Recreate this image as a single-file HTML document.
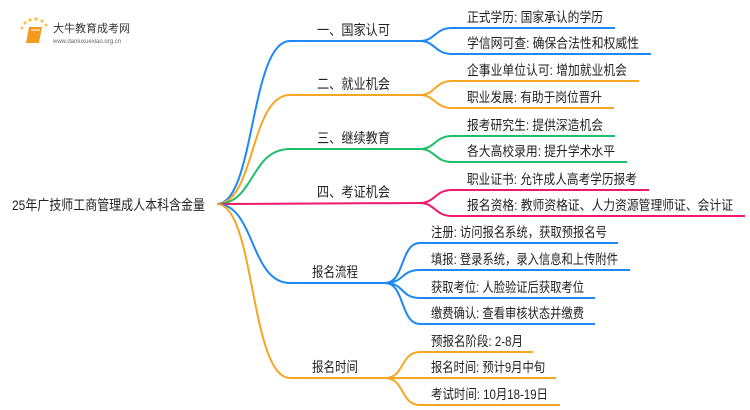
<!DOCTYPE html>
<html><head><meta charset="utf-8"><style>
html,body{margin:0;padding:0;background:#fff;width:750px;height:410px;overflow:hidden}
svg text{font-family:"Liberation Sans","Noto Sans CJK SC",sans-serif;fill:#222}
</style></head><body>
<svg width="750" height="410" viewBox="0 0 750 410" xmlns="http://www.w3.org/2000/svg">
<g fill="none" stroke-width="2">
<path d="M217,204 C255,204 250,41 290,41 L420,41" stroke="#1e88f5"/>
<path d="M217,204 C255,204 250,95 290,95 L420,95" stroke="#f5a623"/>
<path d="M217,204 C255,204 250,149 290,149 L420,149" stroke="#1fbf6a"/>
<path d="M217,204 L420,203" stroke="#f0196e"/>
<path d="M217,204 C255,204 250,283 290,283 L385,283" stroke="#1e88f5"/>
<path d="M217,204 C255,204 250,378 290,378 L385,378" stroke="#f5a623"/>
<g stroke="#1e88f5">
<path d="M420,41 C435,41 435,28 452,28 L615,28"/>
<path d="M420,41 C435,41 435,54 452,54 L651,54"/>
</g>
<g stroke="#f5a623">
<path d="M420,95 C435,95 435,81 452,81 L639,81"/>
<path d="M420,95 C435,95 435,108 452,108 L614,108"/>
</g>
<g stroke="#1fbf6a">
<path d="M420,149 C435,149 435,136 452,136 L615,136"/>
<path d="M420,149 C435,149 435,162 452,162 L627,162"/>
</g>
<g stroke="#f0196e">
<path d="M420,203 C435,203 435,190 452,190 L649,190"/>
<path d="M420,203 C435,203 435,216 452,216 L745,216"/>
</g>
<g stroke="#1e88f5">
<path d="M385,283 C405,283 400,243 420,243 L618,243"/>
<path d="M385,283 C405,283 400,270 420,270 L630,270"/>
<path d="M385,283 C405,283 400,298 420,298 L595,298"/>
<path d="M385,283 C405,283 400,324 420,324 L595,324"/>
</g>
<g stroke="#f5a623">
<path d="M385,378 C405,378 400,352 420,352 L533,352"/>
<path d="M385,378 L556,378"/>
<path d="M385,378 C405,378 400,405 420,405 L560,405"/>
</g>
</g>
<g>
<circle cx="22" cy="28" r="1.5" fill="#f8c34a"/><circle cx="25" cy="23" r="1.6" fill="#f8c34a"/>
<circle cx="30" cy="20" r="1.7" fill="#f8c34a"/><circle cx="36" cy="19" r="1.7" fill="#f8c34a"/>
<circle cx="42" cy="21" r="1.6" fill="#f8c34a"/><circle cx="46" cy="25" r="1.5" fill="#f8c34a"/>
<path d="M29,27 L42,27 L39,43 L26,43 Z" fill="#f39a1e"/>
<path d="M31,30 L40,30" stroke="#fff" stroke-width="1"/>
<text x="53" y="32" font-size="11" style="fill:#333">大牛教育成考网</text>
<text x="53" y="43" font-size="6" style="fill:#666">www.daniuxuexiao.org.cn</text>
</g>
<g font-size="14" lengthAdjust="spacingAndGlyphs">
<text x="12" y="210" textLength="193" lengthAdjust="spacingAndGlyphs">25年广技师工商管理成人本科含金量</text>
<text x="317" y="35" textLength="73" lengthAdjust="spacingAndGlyphs">一、国家认可</text>
<text x="317" y="89" textLength="73" lengthAdjust="spacingAndGlyphs">二、就业机会</text>
<text x="317" y="143" textLength="73" lengthAdjust="spacingAndGlyphs">三、继续教育</text>
<text x="317" y="197" textLength="73" lengthAdjust="spacingAndGlyphs">四、考证机会</text>
<text x="312" y="277" textLength="46" lengthAdjust="spacingAndGlyphs">报名流程</text>
<text x="312" y="372" textLength="46" lengthAdjust="spacingAndGlyphs">报名时间</text>
</g>
<g font-size="13.5">
<text x="467" y="22" textLength="136" lengthAdjust="spacingAndGlyphs">正式学历: 国家承认的学历</text>
<text x="467" y="48" textLength="172" lengthAdjust="spacingAndGlyphs">学信网可查: 确保合法性和权威性</text>
<text x="467" y="75" textLength="160" lengthAdjust="spacingAndGlyphs">企事业单位认可: 增加就业机会</text>
<text x="467" y="102" textLength="135" lengthAdjust="spacingAndGlyphs">职业发展: 有助于岗位晋升</text>
<text x="467" y="130" textLength="136" lengthAdjust="spacingAndGlyphs">报考研究生: 提供深造机会</text>
<text x="467" y="156" textLength="148" lengthAdjust="spacingAndGlyphs">各大高校录用: 提升学术水平</text>
<text x="467" y="184" textLength="170" lengthAdjust="spacingAndGlyphs">职业证书: 允许成人高考学历报考</text>
<text x="467" y="210" textLength="266" lengthAdjust="spacingAndGlyphs">报名资格: 教师资格证、人力资源管理师证、会计证</text>
<text x="431" y="237" textLength="176" lengthAdjust="spacingAndGlyphs">注册: 访问报名系统，获取预报名号</text>
<text x="431" y="264" textLength="187" lengthAdjust="spacingAndGlyphs">填报: 登录系统，录入信息和上传附件</text>
<text x="431" y="292" textLength="153" lengthAdjust="spacingAndGlyphs">获取考位: 人脸验证后获取考位</text>
<text x="431" y="318" textLength="153" lengthAdjust="spacingAndGlyphs">缴费确认: 查看审核状态并缴费</text>
<text x="431" y="346" textLength="92" lengthAdjust="spacingAndGlyphs">预报名阶段: 2-8月</text>
<text x="431" y="372" textLength="114" lengthAdjust="spacingAndGlyphs">报名时间: 预计9月中旬</text>
<text x="431" y="399" textLength="117" lengthAdjust="spacingAndGlyphs">考试时间: 10月18-19日</text>
</g>
</svg>
</body></html>
